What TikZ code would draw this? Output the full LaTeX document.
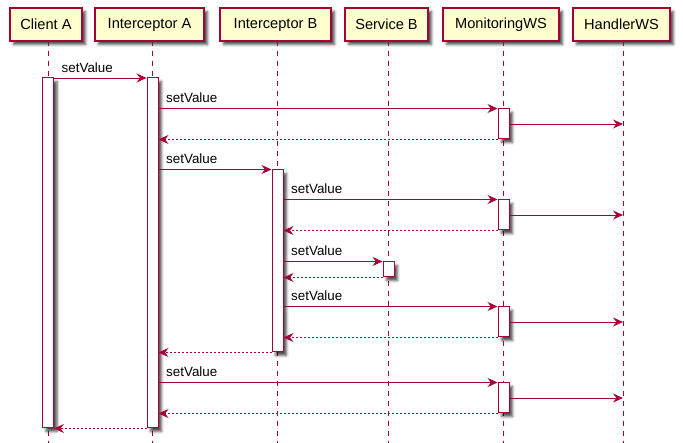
\documentclass[tikz,border=0pt]{standalone}
\usepackage{fontspec}
\setmainfont{Liberation Sans}
\usetikzlibrary{arrows.meta,shadows.blur}
\definecolor{puborder}{HTML}{A80036}
\definecolor{pufill}{HTML}{FEFECE}
\begin{document}
\begin{tikzpicture}[x=1pt,y=-1pt,
  shd/.style={blur shadow={shadow xshift=3.5pt,shadow yshift=-3.5pt,shadow blur radius=2.5pt,shadow opacity=70}},
  part/.style={draw=puborder,fill=pufill,line width=1.2pt,minimum height=33pt,inner sep=0pt,font=\fontsize{14.6}{16}\selectfont,shd},
  life/.style={draw=puborder,line width=0.9pt,dash pattern=on 5pt off 5pt},
  actbox/.style={draw=puborder,fill=white,line width=1pt,minimum width=11pt,inner sep=0pt,shd},
  msg/.style={draw=puborder,line width=0.9pt,-{Stealth[length=10pt,width=9pt,inset=3.5pt]}},
  ret/.style={msg,dash pattern=on 2pt off 2pt},
  lbl/.style={font=\fontsize{13.4}{15}\selectfont,anchor=base west,inner sep=0pt,xshift=7.5pt,yshift=5.5pt}
]
\useasboundingbox (0,0) rectangle (683,443);
% participants
\node[part,minimum width=72pt]  (pCA) at (46,24.5)    {Client A};
\node[part,minimum width=109pt] (pIA) at (149.5,24.5) {Interceptor A};
\node[part,minimum width=111pt] (pIB) at (275.5,24.5) {Interceptor B};
\node[part,minimum width=83pt]  (pSB) at (386.5,24.5) {Service B};
\node[part,minimum width=116pt] (pMW) at (501,24.5)   {MonitoringWS};
\node[part,minimum width=97pt]  (pHW) at (621.5,24.5) {HandlerWS};
% lifeline tops and bottoms
\coordinate (lCA) at (48,41);    \coordinate (eCA) at (48,443);
\coordinate (lIA) at (152.5,41); \coordinate (eIA) at (152.5,443);
\coordinate (lIB) at (277.5,41); \coordinate (eIB) at (277.5,443);
\coordinate (lSB) at (388.5,41); \coordinate (eSB) at (388.5,443);
\coordinate (lMW) at (503.5,41); \coordinate (eMW) at (503.5,443);
\coordinate (lHW) at (623,41);   \coordinate (eHW) at (623,443);
\draw[life] (lCA) -- (eCA);
\draw[life] (lIA) -- (eIA);
\draw[life] (lIB) -- (eIB);
\draw[life] (lSB) -- (eSB);
\draw[life] (lMW) -- (eMW);
\draw[life] (lHW) -- (eHW);
% activations
\node[actbox,minimum height=350pt] (aCA) at (48,253) {};
\node[actbox,minimum height=350pt] (aIA) at (152.5,253) {};
\node[actbox,minimum height=30pt] (aMW1) at (503.5,124) {};
\node[actbox,minimum height=182pt] (aIB) at (277.5,261) {};
\node[actbox,minimum height=30pt] (aMW2) at (503.5,215) {};
\node[actbox,minimum height=15pt] (aSB) at (388.5,269.5) {};
\node[actbox,minimum height=30pt] (aMW3) at (503.5,322) {};
\node[actbox,minimum height=30pt] (aMW4) at (503.5,398) {};
% messages
\draw[msg] (aCA.east |- 0,78) coordinate (s1) -- (aIA.west |- 0,78);
\node[lbl] at (s1) {setValue};
\draw[msg] (aIA.east |- aMW1.north) coordinate (s2) -- (aMW1.north west);
\node[lbl] at (s2) {setValue};
\draw[msg] (aMW1.east) -- (lHW |- aMW1.east);
\draw[ret] (aMW1.south west) -- (aIA.east |- aMW1.south);
\draw[msg] (aIA.east |- aIB.north) coordinate (s5) -- (aIB.north west);
\node[lbl] at (s5) {setValue};
\draw[msg] (aIB.east |- aMW2.north) coordinate (s6) -- (aMW2.north west);
\node[lbl] at (s6) {setValue};
\draw[msg] (aMW2.east) -- (lHW |- aMW2.east);
\draw[ret] (aMW2.south west) -- (aIB.east |- aMW2.south);
\draw[msg] (aIB.east |- aSB.north) coordinate (s9) -- (aSB.north west);
\node[lbl] at (s9) {setValue};
\draw[ret] (aSB.south west) -- (aIB.east |- aSB.south);
\draw[msg] (aIB.east |- aMW3.north) coordinate (s11) -- (aMW3.north west);
\node[lbl] at (s11) {setValue};
\draw[msg] (aMW3.east) -- (lHW |- aMW3.east);
\draw[ret] (aMW3.south west) -- (aIB.east |- aMW3.south);
\draw[ret] (aIB.south west) -- (aIA.east |- aIB.south);
\draw[msg] (aIA.east |- aMW4.north) coordinate (s15) -- (aMW4.north west);
\node[lbl] at (s15) {setValue};
\draw[msg] (aMW4.east) -- (lHW |- aMW4.east);
\draw[ret] (aMW4.south west) -- (aIA.east |- aMW4.south);
\draw[ret] (aIA.south west) -- (aCA.south east);
\end{tikzpicture}
\end{document}
